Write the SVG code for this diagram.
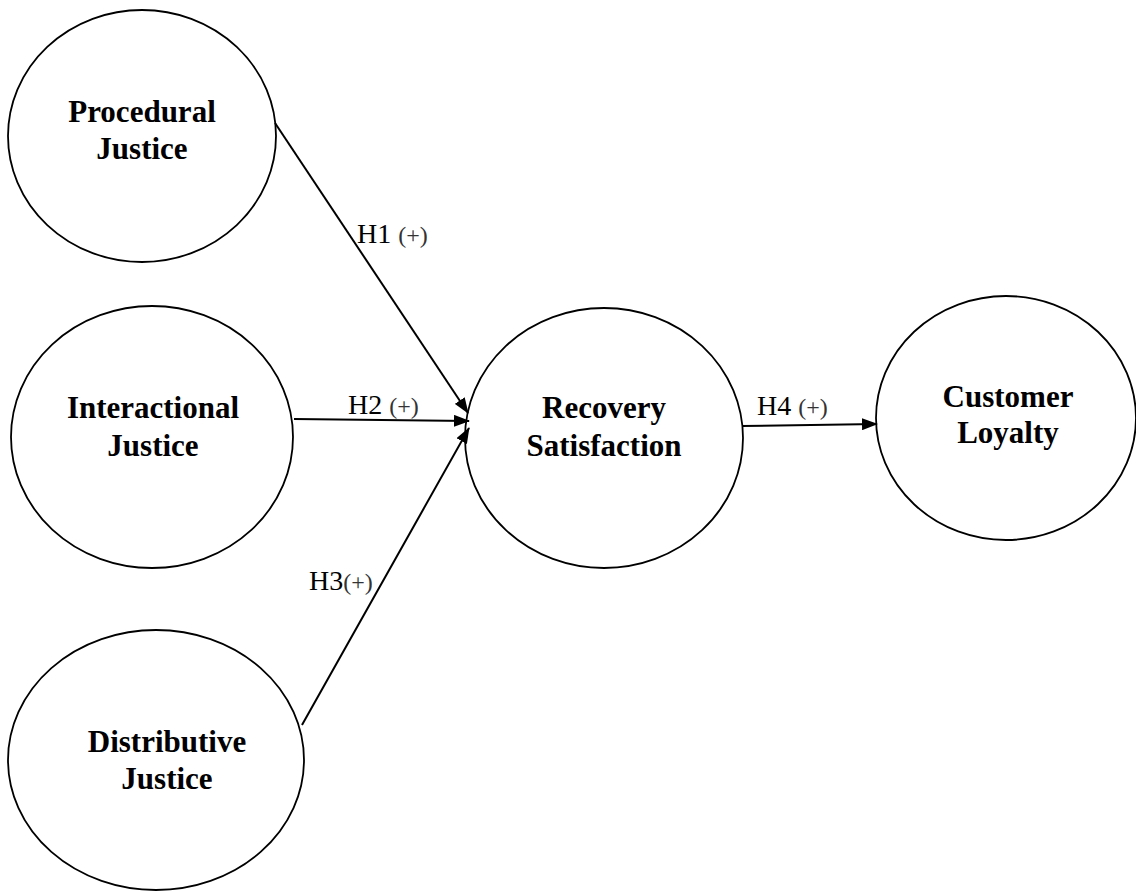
<svg xmlns="http://www.w3.org/2000/svg" width="1136" height="892" viewBox="0 0 1136 892">
<style>
.node{fill:#fff;stroke:#000;stroke-width:1.8}
.nt{font-family:"Liberation Serif","Times New Roman",serif;font-weight:bold;font-size:31px;fill:#000;text-anchor:middle}
.conn{stroke:#000;stroke-width:2;fill:none;marker-end:url(#arr)}
.lb{font-family:"Liberation Serif","Times New Roman",serif;font-size:28px;fill:#000}
.pl{font-size:24px;fill:#333}
</style>
<defs>
<marker id="arr" markerUnits="userSpaceOnUse" markerWidth="16" markerHeight="12" refX="15" refY="6" orient="auto">
<path d="M0,0 L16,6 L0,12 Z" fill="#000"/>
</marker>
</defs>
<rect width="1136" height="892" fill="#fff"/>
<g id="procedural">
<ellipse class="node" cx="142" cy="136" rx="134" ry="126"/>
<text class="nt" x="142" y="122">Procedural</text>
<text class="nt" x="142" y="159">Justice</text>
</g>
<g id="interactional">
<ellipse class="node" cx="152" cy="437" rx="141" ry="131"/>
<text class="nt" x="153" y="418">Interactional</text>
<text class="nt" x="153" y="456">Justice</text>
</g>
<g id="distributive">
<ellipse class="node" cx="156" cy="760" rx="148" ry="130"/>
<text class="nt" x="167" y="752">Distributive</text>
<text class="nt" x="167" y="789">Justice</text>
</g>
<g id="recovery">
<ellipse class="node" cx="604" cy="438" rx="139" ry="130"/>
<text class="nt" x="604" y="418">Recovery</text>
<text class="nt" x="604" y="456">Satisfaction</text>
</g>
<g id="loyalty">
<ellipse class="node" cx="1006" cy="418" rx="130" ry="122"/>
<text class="nt" x="1008" y="407">Customer</text>
<text class="nt" x="1008" y="443">Loyalty</text>
</g>
<g id="connectors">
<line class="conn" x1="275" y1="123" x2="468" y2="413"/>
<line class="conn" x1="294" y1="419" x2="469" y2="421"/>
<line class="conn" x1="302" y1="725" x2="469" y2="428"/>
<line class="conn" x1="742" y1="426" x2="877" y2="424"/>
</g>
<g id="labels">
<text class="lb" x="357" y="243">H1 <tspan class="pl">(+)</tspan></text>
<text class="lb" x="348" y="414">H2 <tspan class="pl">(+)</tspan></text>
<text class="lb" x="309" y="590">H3<tspan class="pl">(+)</tspan></text>
<text class="lb" x="757" y="415">H4 <tspan class="pl">(+)</tspan></text>
</g>
</svg>
